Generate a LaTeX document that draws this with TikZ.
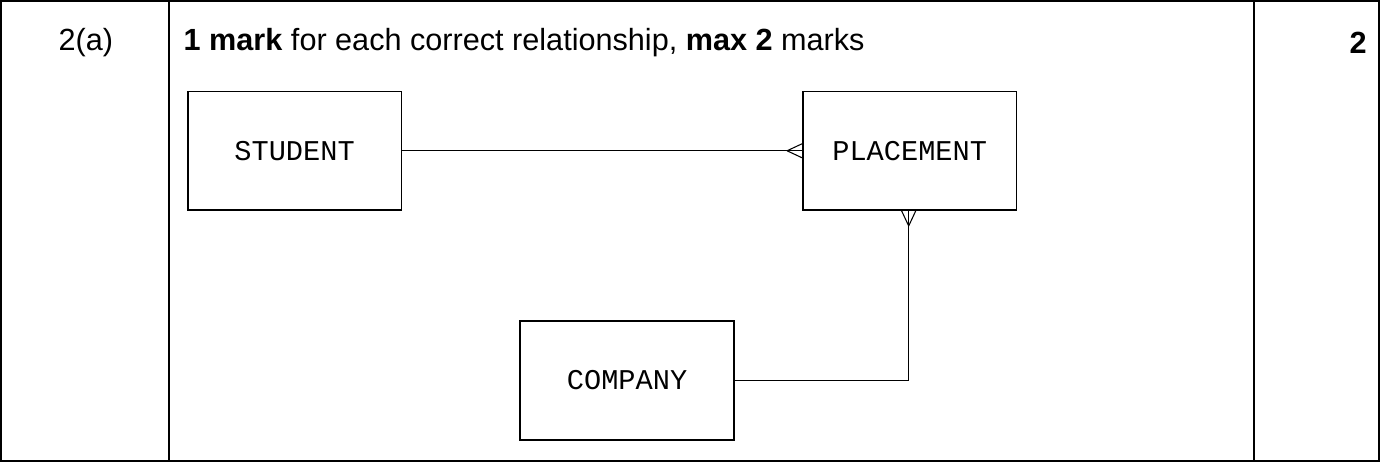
\documentclass[tikz,border=0pt]{standalone}
\usepackage{fontspec}
\setmainfont{Liberation Sans}
\setmonofont{Liberation Mono}
\usetikzlibrary{positioning}
\tikzstyle{entity}=[rectangle,draw,line width=1.2pt,minimum width=214*0.75pt,minimum height=119*0.75pt,font=\ttfamily\fontsize{21.5}{25}\selectfont]
\tikzstyle{cell}=[font=\fontsize{23}{27}\selectfont]
\begin{document}
\begin{tikzpicture}[x=0.75pt,y=-0.75pt,line width=0.8pt]
            % Table frame
            \draw[line width=1.5pt] (0,0) rectangle (1380,461);
            \draw[line width=1.5pt] (168,0) -- (168,461);
            \draw[line width=1.5pt] (1255,0) -- (1255,461);

            \node[cell] (num) at (85,42) {2(a)};
            \node[cell,anchor=west] (head) at (178,42) {\textbf{1 mark} for each correct relationship, \textbf{max 2} marks};
            \node[cell] (mark) at (1359,42) {\textbf{2}};

            % Entities
            \node[entity] (student) at (294,150) {STUDENT};
            \node[entity] (placement) at (910,150) {PLACEMENT};
            \node[entity] (company) at (627,380) {COMPANY};
            \coordinate (corner) at (909,380);

            % Relationships
            \draw (student.east) -- (placement.west);
            \draw ([xshift=-15*0.75pt]placement.west) -- ([yshift=7*0.75pt]placement.west);
            \draw ([xshift=-15*0.75pt]placement.west) -- ([yshift=-7*0.75pt]placement.west);
            \draw (placement.south -| corner) -- (corner) -- (company.east);
            \draw ([yshift=-15*0.75pt]placement.south -| corner) -- ([xshift=-7*0.75pt]placement.south -| corner);
            \draw ([yshift=-15*0.75pt]placement.south -| corner) -- ([xshift=7*0.75pt]placement.south -| corner);
\end{tikzpicture}
\end{document}
